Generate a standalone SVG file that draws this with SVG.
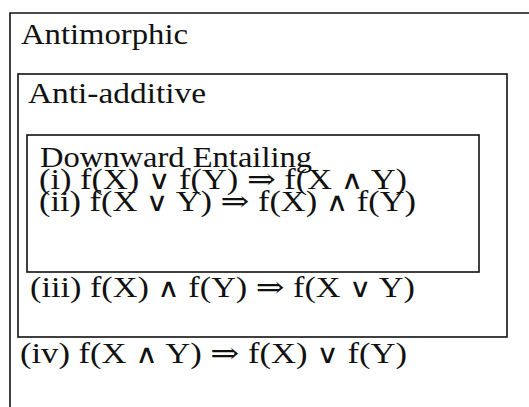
<svg xmlns="http://www.w3.org/2000/svg" width="529" height="407" viewBox="0 0 529 407">
<style>
.box{fill:none;stroke:#111;stroke-width:1.6}
.t{font-family:"Liberation Serif","DejaVu Serif",serif;font-size:29px;fill:#111}
.s{font-family:"DejaVu Serif",serif;font-size:26px}
</style>
<rect width="529" height="407" fill="#fff"/>
<g id="antimorphic">
<path class="box" d="M10,407 V13 H529"/>
<text class="t" x="21" y="44" textLength="167" lengthAdjust="spacingAndGlyphs">Antimorphic</text>
<text class="t" x="20" y="363" textLength="387" lengthAdjust="spacingAndGlyphs">(iv) f(X <tspan class="s">∧</tspan> Y) ⇒ f(X) <tspan class="s">∨</tspan> f(Y)</text>
</g>
<g id="anti-additive">
<rect class="box" x="18" y="74" width="489" height="263"/>
<text class="t" x="28" y="103" textLength="178" lengthAdjust="spacingAndGlyphs">Anti-additive</text>
<text class="t" x="30" y="297" textLength="385" lengthAdjust="spacingAndGlyphs">(iii) f(X) <tspan class="s">∧</tspan> f(Y) ⇒ f(X <tspan class="s">∨</tspan> Y)</text>
</g>
<g id="downward-entailing">
<rect class="box" x="27" y="135" width="452" height="137"/>
<text class="t" x="40" y="167" textLength="272" lengthAdjust="spacingAndGlyphs">Downward Entailing</text>
<text class="t" x="39" y="189" textLength="368" lengthAdjust="spacingAndGlyphs">(i) f(X) <tspan class="s">∨</tspan> f(Y) ⇒ f(X <tspan class="s">∧</tspan> Y)</text>
<text class="t" x="39" y="211" textLength="377" lengthAdjust="spacingAndGlyphs">(ii) f(X <tspan class="s">∨</tspan> Y) ⇒ f(X) <tspan class="s">∧</tspan> f(Y)</text>
</g>
<g id="connectors"></g>
</svg>
